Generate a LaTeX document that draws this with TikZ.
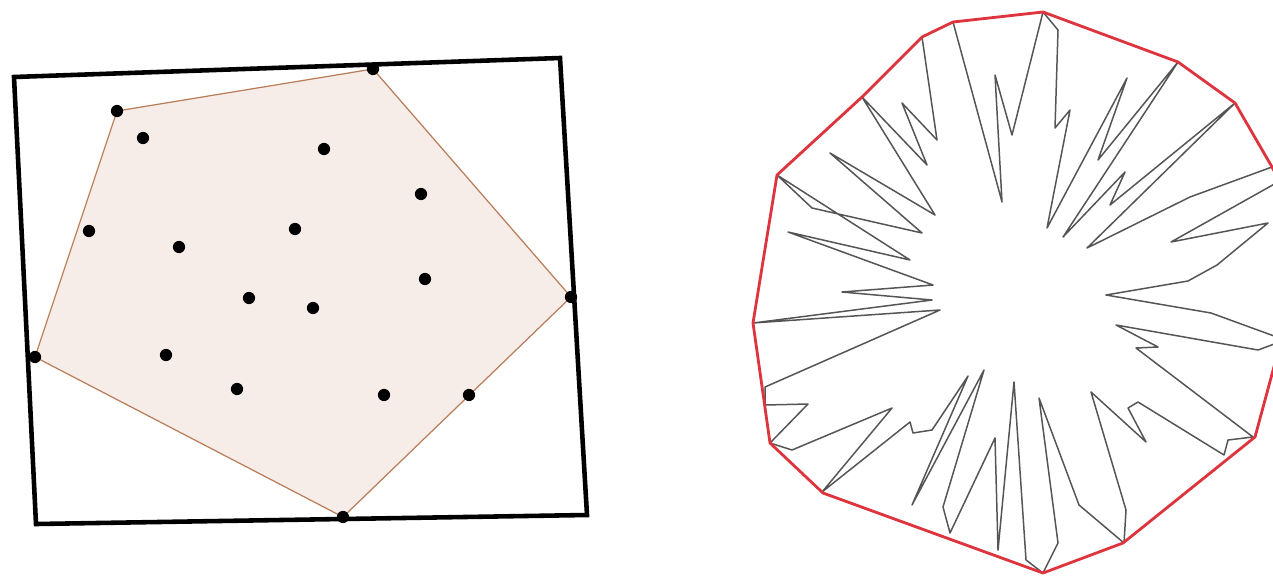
\documentclass[tikz,border=0pt]{standalone}
\usepackage{xcolor}
\usepackage{tikz}
\usetikzlibrary{positioning,calc}
\definecolor{hullred}{RGB}{222,52,62}
\definecolor{starline}{RGB}{85,85,85}
\definecolor{hullfill}{RGB}{246,236,232}
\definecolor{hulledge}{RGB}{185,125,90}

\begin{document}
\begin{tikzpicture}[
    x=0.02cm, y=-0.02cm,
    frame/.style={draw=black, line width=2.6pt, line join=miter},
    hull/.style={draw=hulledge, fill=hullfill, line width=0.7pt},
    pt/.style={circle, fill=black, inner sep=0pt, minimum size=0.245cm},
    redhull/.style={draw=hullred, line width=1.6pt, line join=round},
    star/.style={draw=starline, line width=0.85pt, line join=round}
]
    \useasboundingbox (0,0) rectangle (1273,575);

    % Left: tilted frame
    \coordinate (f1) at (14,77);
    \coordinate (f2) at (560,58);
    \coordinate (f3) at (587,515);
    \coordinate (f4) at (36,524);

    % Left: hull corners
    \coordinate (h1) at (117,111);
    \coordinate (h2) at (373,69);
    \coordinate (h3) at (571,297);
    \coordinate (h4) at (343,517);
    \coordinate (h5) at (35,357);

    \draw[hull] (h1) -- (h2) -- (h3) -- (h4) -- (h5) -- cycle;
    \draw[frame] (f1) -- (f2) -- (f3) -- (f4) -- cycle;

    % Left: points
    \foreach \px/\py [count=\i] in {117/111, 373/69, 143/138, 324/149,
        421/194, 89/231, 179/247, 295/229, 425/279, 571/297, 249/298,
        313/308, 35/357, 166/355, 237/389, 384/395, 469/395, 343/517}
        \node[pt] (p\i) at (\px,\py) {};

    % Right: star-shaped polygon and its hull
    \begin{scope}
        \clip (700,0) rectangle (1273,575);

        \draw[star] (1043,12) -- (1058,30) -- (1055,128) -- (1070,110)
            -- (1047,228) -- (1127,78) -- (1098,160) -- (1178,62)
            -- (1063,237) -- (1125,172) -- (1110,205) -- (1235,103)
            -- (1087,248) -- (1190,197) -- (1272,167) -- (1278,182)
            -- (1171,242) -- (1268,223) -- (1217,265) -- (1188,281)
            -- (1106,295) -- (1211,313) -- (1285,340) -- (1258,350)
            -- (1116,325) -- (1158,347) -- (1136,348) -- (1253,437)
            -- (1228,440) -- (1224,455) -- (1138,402) -- (1128,408)
            -- (1146,442) -- (1091,392) -- (1126,510) -- (1124,543)
            -- (1079,505) -- (1039,398) -- (1058,543) -- (1043,573)
            -- (1026,560) -- (1014,382) -- (998,550) -- (995,438)
            -- (950,533) -- (943,507) -- (984,370) -- (912,505)
            -- (968,376) -- (932,430) -- (913,433) -- (910,422)
            -- (822,492) -- (892,408) -- (792,450) -- (770,443)
            -- (808,404) -- (765,405) -- (765,387) -- (940,310)
            -- (753,323) -- (932,300) -- (842,292) -- (933,285)
            -- (788,232) -- (910,260) -- (777,175) -- (812,208)
            -- (922,233) -- (830,153) -- (935,215) -- (862,97)
            -- (927,165) -- (902,103) -- (937,140) -- (922,37)
            -- (953,22) -- (1002,202) -- (995,75) -- (1012,135)
            -- cycle;

        \draw[redhull] (1043,12) -- (1178,62) -- (1235,103) -- (1272,167)
            -- (1290,200) -- (1292,300) -- (1255,437) -- (1123,543)
            -- (1043,573) -- (823,493) -- (770,443) -- (753,323)
            -- (777,175) -- (862,97) -- (922,37) -- (953,22) -- cycle;
    \end{scope}
\end{tikzpicture}
\end{document}
